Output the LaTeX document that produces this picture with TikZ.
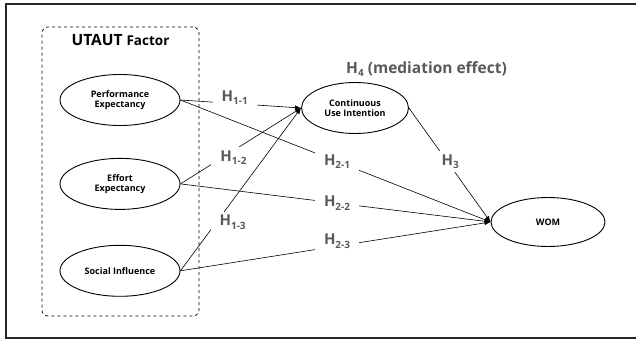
\documentclass[tikz,border=0pt]{standalone}
\usepackage{fontspec}
\setmainfont{Open Sans}
\usetikzlibrary{positioning,shapes,arrows.meta,calc}

% hypothesis label H with a lowered index
\newcommand{\hsub}[1]{H\raisebox{-3.5pt}{\fontsize{10}{10}\selectfont #1}}

\begin{document}
\begin{tikzpicture}[x=1pt, y=-1pt, node distance=30pt]
\tikzset{
    factor/.style={ellipse, draw=black, line width=0.9pt, align=center, minimum width=120pt, minimum height=51pt, inner sep=0pt, font=\bfseries\fontsize{9}{10.5}\selectfont},
    hyp/.style={fill=white, inner xsep=9pt, inner ysep=3pt, text=black!65, font=\bfseries\fontsize{15}{17}\selectfont},
    arrow/.style={-{Latex[length=6pt,width=4.5pt]}, line width=0.6pt},
    group/.style={draw, dashed, rounded corners=6pt, line width=0.7pt}
}
\useasboundingbox (0,0) rectangle (636,339);
\draw[line width=1.8pt, black!85] (645,4) -- (6,4) -- (6,338) -- (645,338);

\node[group, minimum width=157pt, minimum height=289pt] (box) at (120.5,171.5) {};
\node[font=\bfseries\fontsize{15.5}{18}\selectfont, below=4pt of box.north] (title) {UTAUT {\fontsize{13.5}{16}\selectfont Factor}};
\node[factor] (pe) at (120,100) {Performance\\Expectancy};
\node[factor, below=32pt of pe] (ee) {Effort\\Expectancy};
\node[factor, below=35pt of ee] (si) {Social Influence};
\node[factor, minimum width=107pt] (cui) at (355,108) {Continuous\\Use Intention};
\node[factor, minimum width=114pt, minimum height=49pt] (wom) at (548,222) {WOM};
\node[hyp, inner xsep=0pt, font=\bfseries\fontsize{15.5}{17}\selectfont, above right=2pt and -9pt of cui.north] (h4) {H\raisebox{-3.5pt}{\fontsize{10}{10}\selectfont 4} (mediation effect)};

\draw[arrow] (pe.east) -- node[hyp, pos=0.45, yshift=6pt] (h11) {\hsub{1-1}} (cui.west);
\draw[arrow] (ee.east) -- node[hyp, pos=0.44, yshift=-7pt] (h12) {\hsub{1-2}} (cui.west);
\draw[arrow] (si.east) -- node[hyp, pos=0.3, xshift=16pt] (h13) {\hsub{1-3}} (cui.west);
\draw[arrow] (pe.east) -- node[hyp, pos=0.505] (h21) {\hsub{2-1}} (wom.west);
\draw[arrow] (ee.east) -- node[hyp, pos=0.505] (h22) {\hsub{2-2}} (wom.west);
\draw[arrow] (si.east) -- node[hyp, pos=0.505, yshift=5pt] (h23) {\hsub{2-3}} (wom.west);
\draw[arrow] (cui.east) -- node[hyp, pos=0.47, xshift=3pt] (h3) {\hsub{3}} (wom.west);
\end{tikzpicture}
\end{document}
